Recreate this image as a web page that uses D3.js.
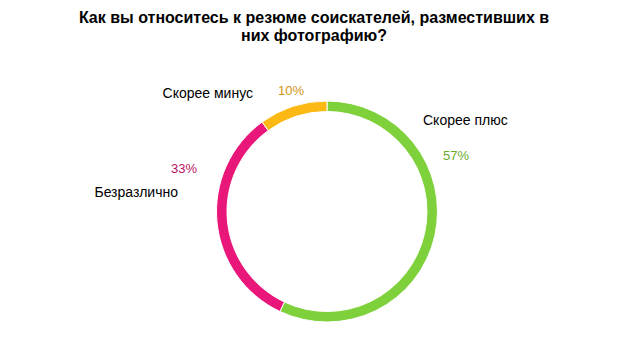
<!DOCTYPE html>
<html>
<head>
<meta charset="utf-8">
<script src="https://cdn.jsdelivr.net/npm/d3@7"></script>
<style>
  body { margin: 0; background: #fff; }
  text { font-family: "Liberation Sans", Arial, sans-serif; }
</style>
</head>
<body>
<svg id="chart" width="628" height="352"></svg>
<script>
"use strict";

const titleLines = ["Как вы относитесь к резюме соискателей, разместивших в", "них фотографию?"];
const categories = ["Скорее плюс", "Безразлично", "Скорее минус"];
const values = [57, 33, 10];
const colors = ["#7ed13b", "#e9177a", "#fdb913"];
const labelColors = ["#6aac2c", "#b8125f", "#cf9411"];

// label placement (offsets from the donut centre), excel-style outside labels
const labelLayout = [
  { name: [96, -87, "start"], pct: [116, -52, "start"] },
  { name: [-149, -15, "end"], pct: [-130, -39, "end"] },
  { name: [-74, -114, "end"], pct: [-23, -117, "end"] }
];

const svg = d3.select("#chart");
const cx = 327, cy = 211.5;
const outerR = 110.5, innerR = 100;

svg.append("g")
  .selectAll("text")
  .data(titleLines)
  .join("text")
  .attr("x", 314)
  .attr("y", (d, i) => 23 + i * 18)
  .attr("text-anchor", "middle")
  .attr("font-size", 16)
  .attr("font-weight", "bold")
  .attr("fill", "#000")
  .text((d) => d);

const data = categories.map((c, i) => ({ name: c, value: values[i], i }));

const pie = d3.pie().sort(null).value((d) => d.value);
const arcPath = d3.arc().innerRadius(innerR).outerRadius(outerR);

const graph = svg.append("g").attr("transform", `translate(${cx}, ${cy})`);

graph.selectAll("path")
  .data(pie(data))
  .join("path")
  .attr("d", arcPath)
  .attr("fill", (d) => colors[d.data.i])
  .attr("stroke", "#fff")
  .attr("stroke-width", 1);

graph.selectAll("text.name")
  .data(data)
  .join("text")
  .attr("class", "name")
  .attr("x", (d) => labelLayout[d.i].name[0])
  .attr("y", (d) => labelLayout[d.i].name[1])
  .attr("text-anchor", (d) => labelLayout[d.i].name[2])
  .attr("font-size", 14)
  .attr("fill", "#000")
  .text((d) => d.name);

graph.selectAll("text.pct")
  .data(data)
  .join("text")
  .attr("class", "pct")
  .attr("x", (d) => labelLayout[d.i].pct[0])
  .attr("y", (d) => labelLayout[d.i].pct[1])
  .attr("text-anchor", (d) => labelLayout[d.i].pct[2])
  .attr("font-size", 13)
  .attr("fill", (d) => labelColors[d.i])
  .text((d) => d.value + "%");
</script>
</body>
</html>
